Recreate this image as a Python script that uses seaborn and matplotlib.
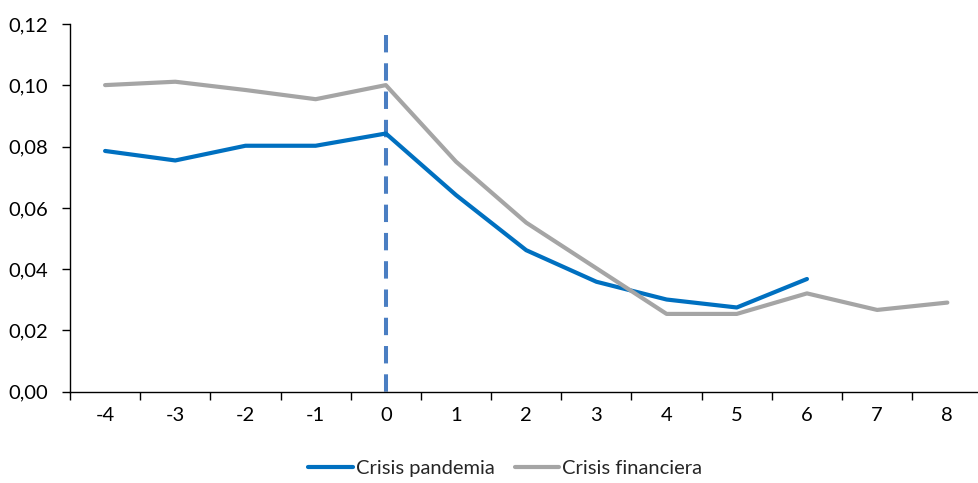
import matplotlib
matplotlib.use("Agg")
import matplotlib.pyplot as plt
import matplotlib.ticker as mticker
import numpy as np
import pandas as pd
import seaborn as sns

# Periods relative to the start of each crisis
periods = [-4, -3, -2, -1, 0, 1, 2, 3, 4, 5, 6, 7, 8]
pandemia_periods = [-4, -3, -2, -1, 0, 1, 2, 3, 4, 5, 6]
pandemia = [0.0786, 0.0755, 0.0803, 0.0803, 0.0843, 0.0642, 0.0462, 0.0359, 0.0301, 0.0275, 0.0368]
financiera = [0.1001, 0.1012, 0.0985, 0.0955, 0.1001, 0.0751, 0.0552, 0.0403, 0.0254, 0.0254, 0.0321, 0.0267, 0.0291]
series_names = ["Crisis pandemia", "Crisis financiera"]
y_ticks = [0.00, 0.02, 0.04, 0.06, 0.08, 0.10, 0.12]

df = pd.concat([
    pd.DataFrame({"periodo": pandemia_periods, "valor": pandemia, "serie": series_names[0]}),
    pd.DataFrame({"periodo": periods, "valor": financiera, "serie": series_names[1]}),
], ignore_index=True)

sns.set_theme(style="white")
plt.rcParams["font.family"] = ["Lato", "DejaVu Sans"]

fig = plt.figure(figsize=(9.79, 4.83), dpi=100)
ax = fig.add_axes([0.0715, 0.189, 0.932, 0.761])

palette = {series_names[0]: "#0070C0", series_names[1]: "#A5A5A5"}
sns.lineplot(data=df, x="periodo", y="valor", hue="serie", palette=palette,
             linewidth=3.0, sort=False, ax=ax, legend=True)

# Event marker at period 0, dashed from the top down to the axis
ax.plot([0, 0], [0.1165, 0], color="#4A7EC2", linewidth=2.9,
        linestyle=(0, (4.32, 2.70)), zorder=1)

ax.set_xlim(-4.5, 8.5)
ax.set_ylim(0, 0.12)
ax.set_xticks(periods)
ax.set_xticklabels([str(p) for p in periods])
ax.xaxis.set_minor_locator(mticker.FixedLocator(np.arange(-4.5, 8.6, 1.0)))
ax.set_yticks(y_ticks)
ax.set_yticklabels([f"{v:.2f}".replace(".", ",") for v in y_ticks])
ax.set_xlabel("")
ax.set_ylabel("")

for side in ("top", "right"):
    ax.spines[side].set_visible(False)
for side in ("left", "bottom"):
    ax.spines[side].set_color("#000000")
    ax.spines[side].set_linewidth(1.0)

ax.tick_params(axis="x", which="major", length=0, pad=11, labelsize=14.5, colors="#000000")
ax.tick_params(axis="x", which="minor", bottom=True, length=6, width=1.0, color="#000000")
ax.tick_params(axis="y", which="major", left=True, length=6, width=1.0, pad=10,
               labelsize=14.5, colors="#000000")

handles, labels = ax.get_legend_handles_labels()
ax.legend(handles, labels, loc="center", bbox_to_anchor=(0.516, 0.031),
          bbox_transform=fig.transFigure, ncol=2, frameon=False,
          fontsize=14.5, handlelength=2.2, handletextpad=0.15, columnspacing=1.0)

fig.savefig("out.png", dpi=100, facecolor="white")
